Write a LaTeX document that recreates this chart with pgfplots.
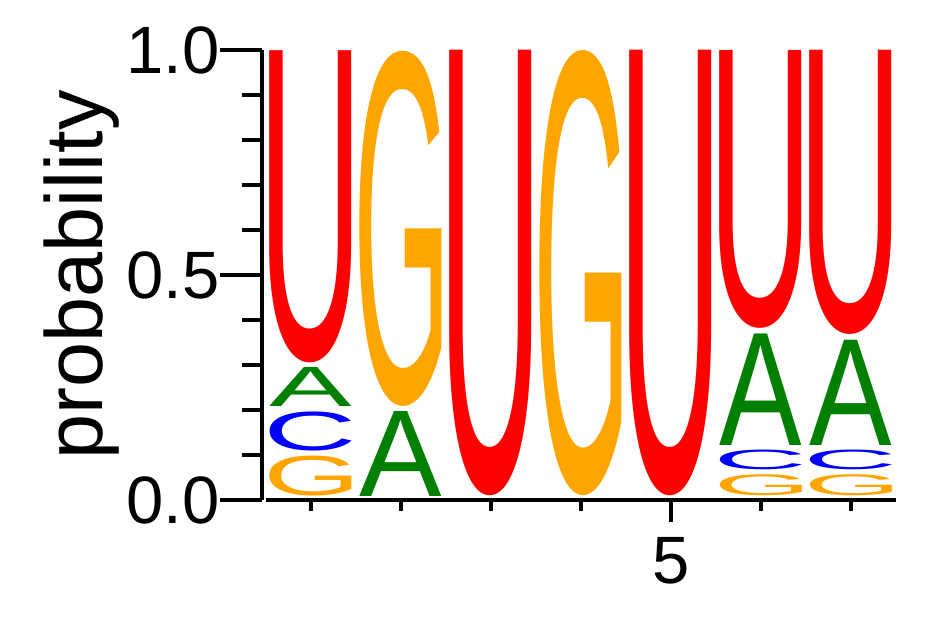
\documentclass[border=0pt]{standalone}
\usepackage{fontspec}
\setmainfont{Liberation Sans}
\usepackage{graphicx}
\usepackage{pgfplots}
\pgfplotsset{compat=1.18}
\usepackage{pgfplotstable}

\definecolor{logoU}{RGB}{255,0,0}
\definecolor{logoG}{RGB}{255,165,0}
\definecolor{logoA}{RGB}{0,128,0}
\definecolor{logoC}{RGB}{0,0,255}

% pos = column, base = bottom of the letter's slot, p = probability
\pgfplotstableread{
pos base p
1 0.296 0.704
3 0 1
5 0 1
6 0.372 0.628
7 0.358 0.642
}\Utab
\pgfplotstableread{
pos base p
1 0 0.100
2 0.2 0.800
4 0 1
6 0 0.058
7 0 0.058
}\Gtab
\pgfplotstableread{
pos base p
1 0.100 0.098
6 0.058 0.055
7 0.058 0.055
}\Ctab
\pgfplotstableread{
pos base p
1 0.198 0.098
2 0 0.200
6 0.113 0.259
7 0.113 0.245
}\Atab

% glyph cut to its own ink, then stretched to the slot
\newlength\glyphh
\newcommand\tightglyph[1]{%
  \setbox0=\hbox{\kern-\XeTeXglyphbounds1 \XeTeXcharglyph`#1\relax #1\kern-\XeTeXglyphbounds3 \XeTeXcharglyph`#1\relax}%
  \ht0=\XeTeXglyphbounds2 \XeTeXcharglyph`#1\relax
  \dp0=\XeTeXglyphbounds4 \XeTeXcharglyph`#1\relax
  \box0}
\newcommand\logoletter[3]{%
  \pgfmathsetlength{\glyphh}{#2*225pt-2.5pt}%
  \textcolor{#3}{\resizebox*{41pt}{\glyphh}{\tightglyph{#1}}}}

\pgfplotsset{
  letters/.style n args={2}{
    draw=none, mark=none,
    point meta=explicit symbolic,
    nodes near coords={\logoletter{#1}{\pgfplotspointmeta}{#2}},
    every node near coord/.append style={anchor=south, inner sep=0pt, outer sep=0pt, yshift=2pt},
  },
}

\begin{document}
\begin{tikzpicture}
\begin{axis}[
    name=ax,
    x=45pt, y=225pt,
    xmin=0.5, xmax=7.5, ymin=0, ymax=1,
    clip=false,
    axis x line*=bottom, axis y line*=left,
    axis y line shift=2pt,
    axis line style={line width=2pt, -},
    tick align=outside,
    major tick length=21pt, minor tick length=10pt,
    tick style={line width=2pt, black},
    xtick={5}, xticklabels={5},
    minor xtick={1,2,3,4,6,7},
    ytick={0,0.5,1}, yticklabels={0.0,0.5,1.0},
    minor ytick={0.1,0.2,0.3,0.4,0.6,0.7,0.8,0.9},
    xtick style={/pgfplots/major tick length=11pt, /pgfplots/minor tick length=5.5pt},
    ticklabel style={font=\fontsize{33.5}{40}\selectfont, inner sep=0pt},
    yticklabel style={anchor=east},
    xticklabel style={anchor=north, yshift=2.5pt},
    ylabel={probability},
    ylabel style={font=\fontsize{40.5}{48}\selectfont},
]
\addplot[letters={G}{logoG}] table[x=pos, y=base, meta=p] {\Gtab};
\addplot[letters={C}{logoC}] table[x=pos, y=base, meta=p] {\Ctab};
\addplot[letters={A}{logoA}] table[x=pos, y=base, meta=p] {\Atab};
\addplot[letters={U}{logoU}] table[x=pos, y=base, meta=p] {\Utab};
\end{axis}
\pgfresetboundingbox
\useasboundingbox ([xshift=-133pt, yshift=-58.5pt]ax.south west) rectangle ([xshift=23pt, yshift=25pt]ax.north east);
\end{tikzpicture}
\end{document}
